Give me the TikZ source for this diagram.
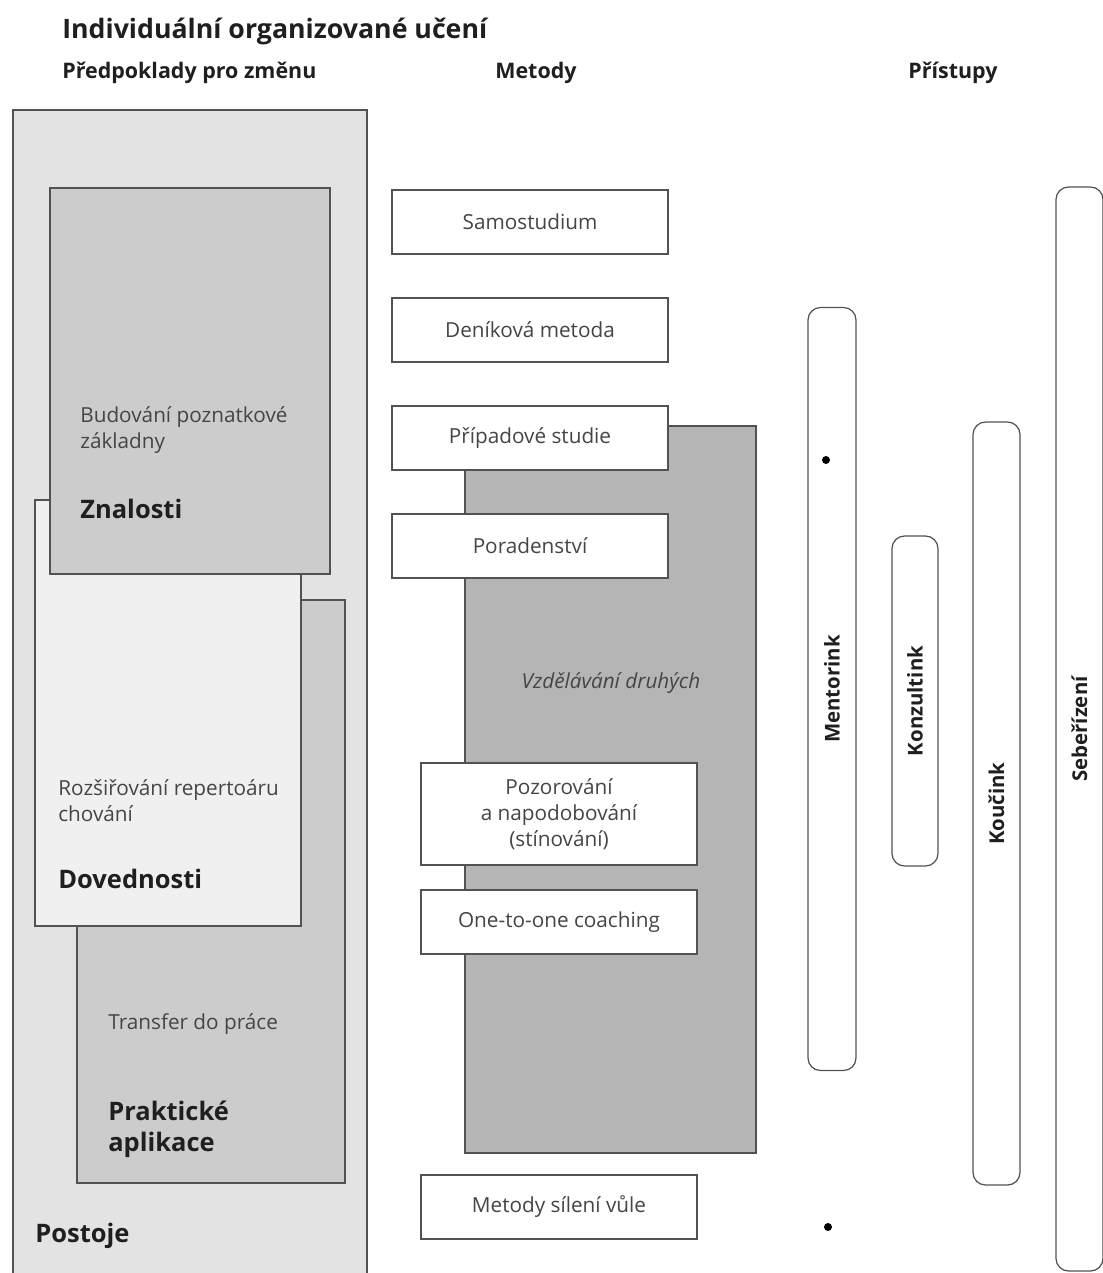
\documentclass[tikz,border=0pt]{standalone}
\usepackage{fontspec}
\setmainfont{Open Sans}

\definecolor{edgegray}{gray}{0.32}
\definecolor{postojegray}{gray}{0.89}
\definecolor{layergray}{gray}{0.80}
\definecolor{skillgray}{gray}{0.94}
\definecolor{othersgray}{gray}{0.71}
\definecolor{subtext}{gray}{0.27}
\definecolor{labeltext}{gray}{0.12}

\tikzset{
  layer/.style={draw=edgegray, line width=0.7pt},
  sublabel/.style={anchor=base west, inner sep=0pt, align=left, text=subtext,
    font=\fontsize{11.8}{14.4}\selectfont},
  mainlabel/.style={anchor=base west, inner sep=0pt, align=left, text=labeltext,
    font=\bfseries\fontsize{14.5}{17.6}\selectfont},
  colhead/.style={anchor=base west, inner sep=0pt, text=labeltext,
    font=\bfseries\fontsize{12.2}{14}\selectfont},
  methodbox/.style={draw=edgegray, line width=0.7pt, fill=white, inner sep=0pt,
    minimum width=55.2mm, minimum height=12.8mm, align=center, text=subtext,
    font=\fontsize{11.8}{14.8}\selectfont},
  approachbox/.style={draw=edgegray, line width=0.7pt, fill=white, inner sep=0pt,
    rounded corners=2.5mm, rotate=90, text=labeltext,
    font=\bfseries\fontsize{11.6}{13}\selectfont}
}

\begin{document}
\begin{tikzpicture}[x=0.2mm, y=-0.2mm]
  \useasboundingbox (0,0) rectangle (1102,1273);

  % headings
  \node[anchor=base west, inner sep=0pt, text=labeltext,
    font=\bfseries\fontsize{15.2}{17}\selectfont] (title) at (62,38) {Individuální organizované učení};
  \node[colhead] (hpredp) at (62,78) {Předpoklady pro změnu};
  \node[colhead] (hmetody) at (495,78) {Metody};
  \node[colhead] (hpristupy) at (908,78) {Přístupy};

  % predpoklady, layered boxes
  \draw[layer, fill=postojegray] (13,110) rectangle (367,1290);
  \draw[layer, fill=layergray] (77,600) rectangle (345,1183);
  \draw[layer, fill=skillgray] (35,500) rectangle (301,926);
  \draw[layer, fill=layergray] (50,188) rectangle (330,574);

  \node[sublabel] (budovani) at (80,448) {Budování poznatkové\\základny};
  \node[mainlabel] (znalosti) at (80,518) {Znalosti};
  \node[sublabel] (rozsir) at (58,821) {Rozšiřování repertoáru\\chování};
  \node[mainlabel] (dovednosti) at (58,888) {Dovednosti};
  \node[sublabel] (transfer) at (108,1029) {Transfer do práce};
  \node[mainlabel] (praktic) at (108,1151) {Praktické\\aplikace};
  \node[mainlabel] (postoje) at (35,1242) {Postoje};

  % metody
  \draw[layer, fill=othersgray] (465,426) rectangle (756,1153);
  \node[anchor=center, text=subtext, font=\itshape\fontsize{11.8}{14}\selectfont] (druhych) at (611,683) {Vzdělávání druhých};

  \node[methodbox] (samo) at (530,222) {Samostudium};
  \node[methodbox] (denik) at (530,330) {Deníková metoda};
  \node[methodbox] (pripad) at (530,438) {Případové studie};
  \node[methodbox] (porad) at (530,546) {Poradenství};
  \node[methodbox, minimum height=20.4mm] (pozor) at (559,814) {Pozorování\\a napodobování\\(stínování)};
  \node[methodbox] (one) at (559,922) {One-to-one coaching};
  \node[methodbox] (vule) at (559,1207) {Metody sílení vůle};

  % pristupy
  \node[approachbox, minimum width=152.6mm, minimum height=9.6mm] (mentor) at (832,689) {Mentorink};
  \node[approachbox, minimum width=66mm, minimum height=9.2mm] (konzult) at (915,701) {Konzultink};
  \node[approachbox, minimum width=152.6mm, minimum height=9.4mm] (kouc) at (996.5,803.5) {Koučink};
  \node[approachbox, minimum width=216.8mm, minimum height=9.4mm] (sebe) at (1079.5,729) {Sebeřízení};

  \fill[black] (826,460) circle (0.8mm);
  \fill[black] (828,1227) circle (0.8mm);
\end{tikzpicture}
\end{document}
